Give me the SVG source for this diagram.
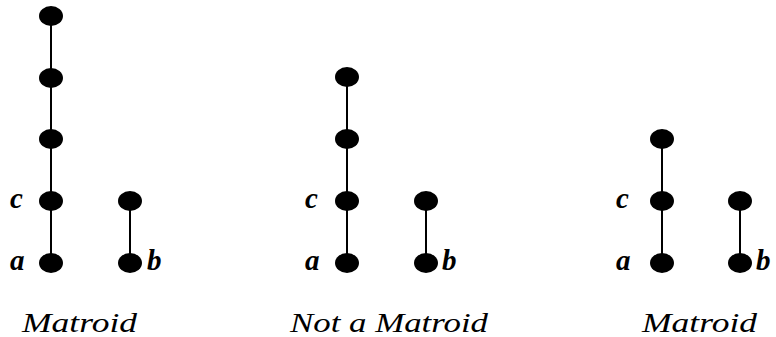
<svg xmlns="http://www.w3.org/2000/svg" width="776" height="337" viewBox="0 0 776 337">
  <style>
    .edge { stroke: #000; stroke-width: 2; fill: none; }
    .node { fill: #000; }
    .lbl { font-family: "Liberation Serif", "Times New Roman", serif; font-style: italic; font-weight: bold; font-size: 29px; fill: #000; }
    .cap { font-family: "Liberation Serif", "Times New Roman", serif; font-style: italic; font-size: 27px; fill: #000; text-anchor: middle; }
  </style>
  <defs>
    <ellipse id="dot" rx="12" ry="10" class="node"/>
  </defs>

  <!-- connectors -->
  <g id="edges">
    <line class="edge" x1="51" y1="16" x2="51" y2="263"/>
    <line class="edge" x1="130" y1="201" x2="130" y2="263"/>
    <line class="edge" x1="347" y1="77" x2="347" y2="263"/>
    <line class="edge" x1="426" y1="201" x2="426" y2="263"/>
    <line class="edge" x1="662" y1="139" x2="662" y2="263"/>
    <line class="edge" x1="740" y1="201" x2="740" y2="263"/>
  </g>

  <!-- first lattice -->
  <g id="m1-n1"><use href="#dot" x="51" y="16"/></g>
  <g id="m1-n2"><use href="#dot" x="51" y="78"/></g>
  <g id="m1-n3"><use href="#dot" x="51" y="139"/></g>
  <g id="m1-c"><use href="#dot" x="51" y="201"/><text class="lbl" x="10" y="208">c</text></g>
  <g id="m1-a"><use href="#dot" x="51" y="263"/><text class="lbl" x="10" y="270">a</text></g>
  <g id="m1-top-b"><use href="#dot" x="130" y="201"/></g>
  <g id="m1-b"><use href="#dot" x="130" y="263"/><text class="lbl" x="147" y="270">b</text></g>
  <text class="cap" x="79.5" y="332" textLength="115" lengthAdjust="spacingAndGlyphs">Matroid</text>

  <!-- second lattice -->
  <g id="m2-n1"><use href="#dot" x="347" y="77"/></g>
  <g id="m2-n2"><use href="#dot" x="347" y="139"/></g>
  <g id="m2-c"><use href="#dot" x="347" y="201"/><text class="lbl" x="305" y="208">c</text></g>
  <g id="m2-a"><use href="#dot" x="347" y="263"/><text class="lbl" x="305" y="270">a</text></g>
  <g id="m2-top-b"><use href="#dot" x="426" y="201"/></g>
  <g id="m2-b"><use href="#dot" x="426" y="263"/><text class="lbl" x="442" y="270">b</text></g>
  <text class="cap" x="389" y="332" textLength="198" lengthAdjust="spacingAndGlyphs">Not a Matroid</text>

  <!-- third lattice -->
  <g id="m3-n1"><use href="#dot" x="662" y="139"/></g>
  <g id="m3-c"><use href="#dot" x="662" y="201"/><text class="lbl" x="616" y="208">c</text></g>
  <g id="m3-a"><use href="#dot" x="662" y="263"/><text class="lbl" x="616" y="270">a</text></g>
  <g id="m3-top-b"><use href="#dot" x="740" y="201"/></g>
  <g id="m3-b"><use href="#dot" x="740" y="263"/><text class="lbl" x="756" y="270">b</text></g>
  <text class="cap" x="699.5" y="332" textLength="115" lengthAdjust="spacingAndGlyphs">Matroid</text>
</svg>
